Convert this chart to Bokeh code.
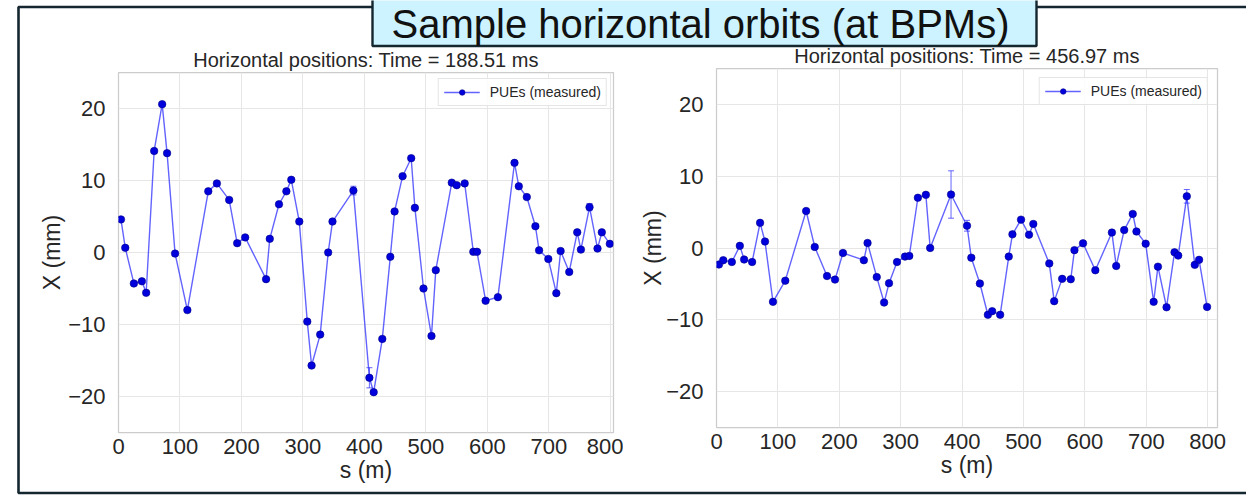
from bokeh.plotting import figure
from bokeh.models import Range1d, FixedTicker, ColumnDataSource, Whisker, TeeHead
from bokeh.layouts import column
from bokeh.embed import file_html
from bokeh.resources import INLINE
from bokeh.core.properties import value

FONT = "Liberation Sans"
TXT = "#262626"

slide_title = "Sample horizontal orbits (at BPMs)"
title_left = "Horizontal positions: Time = 188.51 ms"
title_right = "Horizontal positions: Time = 456.97 ms"
legend_label = "PUEs (measured)"
x_label = "s (m)"
y_label = "X (mm)"

x_ticks = [0, 100, 200, 300, 400, 500, 600, 700, 800]
y_ticks = [-20, -10, 0, 10, 20]
y_tick_labels = ["\u221220", "\u221210", "0", "10", "20"]

# BPM (PUE) longitudinal positions, m
s_bpm = [4, 11, 25, 38, 45, 58, 71, 79, 92, 112,
         146, 160, 180, 193, 206, 240, 246, 261, 273, 281,
         294, 307, 314, 328, 341, 348, 382, 408, 415, 429,
         442, 449, 462, 476, 482, 496, 509, 516, 542, 550,
         563, 577, 583, 597, 617, 644, 651, 664, 678, 684,
         699, 712, 719, 733, 746, 752, 766, 779, 786, 799]

# Horizontal positions at t = 188.51 ms, mm
x_left = [4.6, 0.65, -4.3, -4.0, -5.6, 14.1, 20.6, 13.8, -0.15, -8.0,
          8.5, 9.6, 7.3, 1.3, 2.1, -3.7, 1.9, 6.7, 8.5, 10.1,
          4.3, -9.6, -15.7, -11.4, 0.0, 4.3, 8.6, -17.4, -19.4, -12.0,
          -0.6, 5.7, 10.6, 13.1, 6.2, -5.0, -11.6, -2.45, 9.7, 9.35,
          9.6, 0.1, 0.1, -6.7, -6.2, 12.45, 9.2, 7.7, 3.65, 0.3,
          -0.9, -5.65, 0.2, -2.7, 2.8, 0.4, 6.3, 0.55, 2.8, 1.2]
err_left = [0.25, 0.25, 0.25, 0.25, 0.25, 0.25, 0.25, 0.25, 0.25, 0.25,
            0.25, 0.25, 0.25, 0.25, 0.25, 0.25, 0.25, 0.25, 0.25, 0.25,
            0.25, 0.25, 0.25, 0.25, 0.25, 0.25, 0.6, 1.4, 0.25, 0.25,
            0.25, 0.25, 0.25, 0.25, 0.25, 0.25, 0.25, 0.25, 0.25, 0.25,
            0.25, 0.25, 0.25, 0.25, 0.25, 0.25, 0.25, 0.25, 0.25, 0.25,
            0.25, 0.25, 0.25, 0.25, 0.25, 0.25, 0.5, 0.25, 0.25, 0.25]

# Horizontal positions at t = 456.97 ms, mm
x_right = [-2.3, -1.7, -1.95, 0.3, -1.6, -1.95, 3.5, 0.9, -7.5, -4.55,
           5.15, 0.15, -3.9, -4.4, -0.7, -1.7, 0.7, -4.05, -7.6, -4.9,
           -1.95, -1.2, -1.1, 7.0, 7.4, 0.0, 7.45, 3.1, -1.35, -4.95,
           -9.3, -8.8, -9.3, -1.2, 1.9, 3.95, 1.85, 3.35, -2.15, -7.4,
           -4.3, -4.35, -0.3, 0.65, -3.1, 2.15, -2.5, 2.5, 4.75, 2.3,
           0.6, -7.5, -2.6, -8.25, -0.6, -1.05, 7.2, -2.35, -1.65, -8.2]
err_right = [0.25, 0.25, 0.25, 0.25, 0.25, 0.25, 0.25, 0.25, 0.25, 0.25,
             0.25, 0.25, 0.25, 0.25, 0.25, 0.25, 0.25, 0.25, 0.25, 0.25,
             0.25, 0.25, 0.25, 0.25, 0.25, 0.25, 3.3, 0.75, 0.25, 0.25,
             0.25, 0.25, 0.25, 0.25, 0.25, 0.25, 0.25, 0.25, 0.25, 0.25,
             0.25, 0.25, 0.25, 0.25, 0.25, 0.25, 0.25, 0.25, 0.25, 0.25,
             0.25, 0.25, 0.25, 0.25, 0.25, 0.25, 0.95, 0.25, 0.25, 0.25]

W, H = 1246, 498

# ---------- background slide (frame + title box) ----------
p0 = figure(width=W, height=H, x_range=Range1d(0, W), y_range=Range1d(H, 0),
            x_axis_type=None, y_axis_type=None, output_backend="svg",
            toolbar_location=None, min_border=0)
p0.frame_align = False
p0.outline_line_color = None
p0.background_fill_color = "white"
p0.border_fill_color = "white"
p0.quad(left=[18], right=[1300], top=[6.5], bottom=[492.5], fill_color=None,
        line_color="#14262f", line_width=2.6)
p0.quad(left=[372], right=[1036], top=[-10], bottom=[45.5], fill_color="#ccf3ff",
        line_color="#14262f", line_width=2.4)
p0.text(x=[700], y=[23], text=[slide_title], text_font=value(FONT),
        text_font_size="40px", text_align="center", text_baseline="alphabetic",
        text_color="#111111")


def make_plot(title, xs, ys, errs, x_end, left_px, width, bl, br, bt, bb, leg_margin, ylab_standoff):
    p = figure(width=width, height=H, x_range=Range1d(0, x_end), y_range=Range1d(-25, 25),
               output_backend="svg", toolbar_location=None,
               min_border_left=bl, min_border_right=br, min_border_top=bt, min_border_bottom=bb,
               styles={"position": "absolute", "left": f"{left_px}px", "top": "0px"})
    p.frame_align = False
    p.border_fill_color = None
    p.background_fill_color = "white"
    p.outline_line_color = "#cccccc"
    p.outline_line_width = 1.25

    p.title.text = title
    p.title.align = "center"
    p.title.text_font = FONT
    p.title.text_font_size = "20px"
    p.title.text_font_style = "normal"
    p.title.text_color = TXT
    p.title.standoff = 3

    for ax in (p.xaxis[0], p.yaxis[0]):
        ax.axis_line_color = None
        ax.major_tick_line_color = None
        ax.minor_tick_line_color = None
        ax.major_label_text_font = FONT
        ax.major_label_text_font_size = "22px"
        ax.major_label_text_color = TXT
        ax.axis_label_text_font = FONT
        ax.axis_label_text_font_size = "23px"
        ax.axis_label_text_font_style = "normal"
        ax.axis_label_text_color = TXT
    p.xaxis.ticker = FixedTicker(ticks=x_ticks)
    p.yaxis.ticker = FixedTicker(ticks=y_ticks)
    p.yaxis.major_label_overrides = {t: l for t, l in zip(y_ticks, y_tick_labels)}
    p.xaxis.axis_label = x_label
    p.yaxis.axis_label = y_label
    p.xaxis.major_label_standoff = 0
    p.xaxis.axis_label_standoff = 0
    p.yaxis.major_label_standoff = 7
    p.yaxis.axis_label_standoff = ylab_standoff

    p.xgrid.grid_line_color = "#e6e6e6"
    p.ygrid.grid_line_color = "#e6e6e6"
    p.xgrid.grid_line_width = 1
    p.ygrid.grid_line_width = 1

    upper = [y + e for y, e in zip(ys, errs)]
    lower = [y - e for y, e in zip(ys, errs)]
    src = ColumnDataSource(dict(s=xs, x=ys, upper=upper, lower=lower))

    p.line("s", "x", source=src, line_color="#2f2fff", line_alpha=0.75, line_width=1.4,
           legend_label=legend_label)
    w = Whisker(base="s", upper="upper", lower="lower", source=src, dimension="height",
                line_color="#4040ff", line_alpha=0.8, line_width=1,
                upper_head=TeeHead(size=6, line_color="#4040ff", line_alpha=0.8, line_width=1),
                lower_head=TeeHead(size=6, line_color="#4040ff", line_alpha=0.8, line_width=1))
    p.add_layout(w)
    p.scatter("s", "x", source=src, size=7.5, fill_color="#0000dd", line_color="#000088",
              line_width=0.6, legend_label=legend_label)

    lg = p.legend[0]
    lg.location = "top_right"
    lg.margin = leg_margin
    lg.padding = 5
    lg.label_text_font = FONT
    lg.label_text_font_size = "14px"
    lg.label_text_color = TXT
    lg.label_height = 14
    lg.glyph_height = 14
    lg.glyph_width = 36
    lg.label_standoff = 10
    lg.border_line_color = "#cccccc"
    lg.border_line_width = 1
    lg.background_fill_color = "white"
    lg.background_fill_alpha = 0.85
    return p


p1 = make_plot(title_left, s_bpm, x_left, err_left, 805, 0, 623, 118, 10, 72, 66, 6, 0)
p2 = make_plot(title_right, s_bpm, x_right, err_right, 816, 623, 623, 93, 29, 68, 71, 9, -3)

layout = column(p0, p1, p2, width=W, height=H, styles={"position": "relative"})

open("out.html", "w").write(file_html(layout, INLINE))
